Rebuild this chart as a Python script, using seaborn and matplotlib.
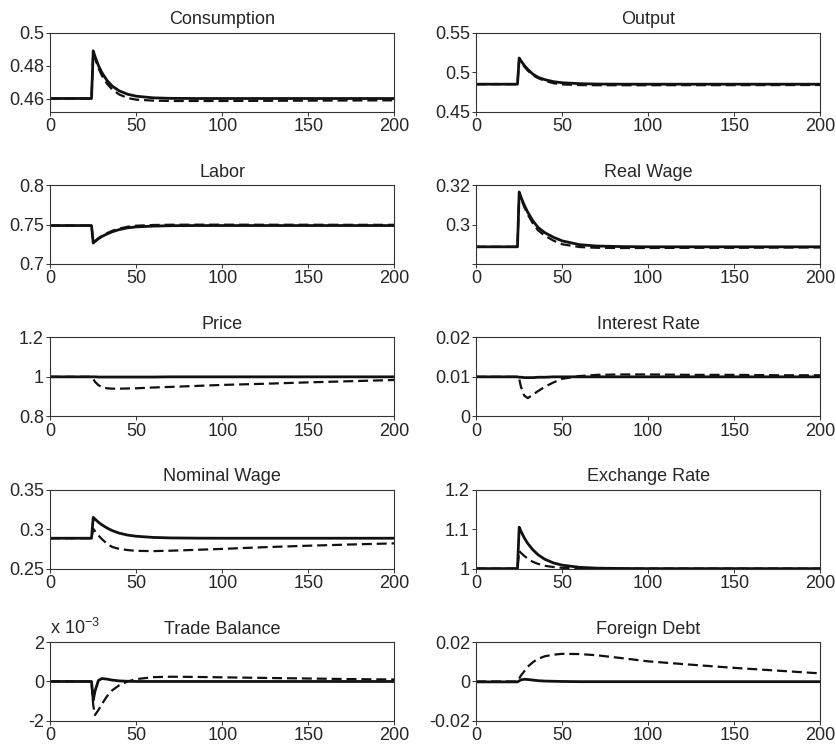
import matplotlib
matplotlib.use("Agg")
import matplotlib.pyplot as plt
import seaborn as sns
import pandas as pd

# Periods at which each impulse response is recorded
periods = [0, 24, 25, 26, 28, 30, 33, 36, 40, 45, 50, 60, 70, 85, 100, 125, 150, 175, 200]

titles = ["Consumption", "Output", "Labor", "Real Wage", "Price",
          "Interest Rate", "Nominal Wage", "Exchange Rate", "Trade Balance", "Foreign Debt"]

# Solid line responses
consumption_solid = [0.460, 0.460, 0.489, 0.4857, 0.4801, 0.4758, 0.4710, 0.4676, 0.4647, 0.4626,
                     0.4614, 0.4604, 0.4601, 0.4600, 0.4600, 0.4600, 0.4600, 0.4600, 0.4600]
output_solid = [0.4848, 0.4848, 0.518, 0.5145, 0.5085, 0.5035, 0.4975, 0.4935, 0.4905, 0.4880,
                0.4866, 0.4855, 0.4850, 0.4848, 0.4848, 0.4848, 0.4848, 0.4848, 0.4848]
labor_solid = [0.7487, 0.7487, 0.7265, 0.7285, 0.7320, 0.7348, 0.7380, 0.7408, 0.7435, 0.7458,
               0.7470, 0.7480, 0.7485, 0.7487, 0.7487, 0.7487, 0.7487, 0.7487, 0.7487]
real_wage_solid = [0.2887, 0.2887, 0.3165, 0.3140, 0.3097, 0.3062, 0.3018, 0.2985, 0.2958, 0.2935,
                   0.2917, 0.2898, 0.2891, 0.2888, 0.2887, 0.2887, 0.2887, 0.2887, 0.2887]
price_solid = [1.0, 1.0, 1.0, 1.0, 0.999, 0.999, 0.999, 0.999, 0.999, 0.999,
               0.999, 0.999, 1.0, 1.0, 1.0, 1.0, 1.0, 1.0, 1.0]
interest_solid = [0.0100, 0.0100, 0.0099, 0.0099, 0.0098, 0.0098, 0.0098, 0.0099, 0.0099, 0.0100,
                  0.0100, 0.0100, 0.0100, 0.0100, 0.0100, 0.0100, 0.0100, 0.0100, 0.0100]
nominal_wage_solid = [0.2885, 0.2885, 0.3150, 0.3128, 0.3088, 0.3055, 0.3015, 0.2982, 0.2950, 0.2925,
                      0.2910, 0.2895, 0.2889, 0.2886, 0.2885, 0.2885, 0.2885, 0.2885, 0.2885]
exchange_solid = [1.0, 1.0, 1.105, 1.095, 1.0775, 1.0635, 1.0475, 1.0350, 1.0235, 1.0143,
                  1.0088, 1.0033, 1.0012, 1.0003, 1.0, 1.0, 1.0, 1.0, 1.0]
trade_solid = [0.0, 0.0, -0.95e-3, -0.50e-3, 0.05e-3, 0.15e-3, 0.12e-3, 0.07e-3, 0.03e-3, 0.01e-3,
               0.0, 0.0, 0.0, 0.0, 0.0, 0.0, 0.0, 0.0, 0.0]
debt_solid = [-0.0002, -0.0002, 0.0003, 0.0008, 0.0011, 0.0010, 0.0007, 0.0004, 0.0002, 0.0001,
              0.0, -0.0001, -0.0001, -0.0001, -0.0001, -0.0001, -0.0001, -0.0001, -0.0001]

# Dashed line responses
consumption_dashed = [0.460, 0.460, 0.488, 0.4845, 0.4785, 0.4740, 0.4690, 0.4655, 0.4625, 0.4603,
                      0.4593, 0.4587, 0.4585, 0.4585, 0.4585, 0.4586, 0.4587, 0.4588, 0.4589]
output_dashed = [0.4848, 0.4848, 0.517, 0.513, 0.507, 0.502, 0.496, 0.4925, 0.489, 0.486,
                 0.4845, 0.4837, 0.4835, 0.4835, 0.4835, 0.4836, 0.4836, 0.4837, 0.4838]
labor_dashed = [0.7487, 0.7487, 0.7270, 0.7290, 0.7325, 0.7355, 0.7390, 0.7420, 0.7448, 0.7472,
                0.7485, 0.7494, 0.7497, 0.7498, 0.7498, 0.7497, 0.7497, 0.7496, 0.7496]
real_wage_dashed = [0.2887, 0.2887, 0.3160, 0.3133, 0.3088, 0.3050, 0.3005, 0.2970, 0.2943, 0.2918,
                    0.2900, 0.2886, 0.2882, 0.2881, 0.2881, 0.2882, 0.2882, 0.2883, 0.2884]
price_dashed = [1.0, 1.0, 0.990, 0.975, 0.958, 0.948, 0.942, 0.940, 0.940, 0.941,
                0.942, 0.946, 0.949, 0.954, 0.959, 0.965, 0.972, 0.978, 0.984]
interest_dashed = [0.0100, 0.0100, 0.0095, 0.0075, 0.0052, 0.0046, 0.0055, 0.0064, 0.0075, 0.0086,
                   0.0095, 0.0102, 0.0105, 0.0106, 0.0106, 0.0105, 0.0105, 0.0104, 0.0104]
nominal_wage_dashed = [0.2885, 0.2885, 0.3005, 0.2975, 0.2920, 0.2875, 0.2815, 0.2775, 0.2750, 0.2735,
                       0.2725, 0.2722, 0.2727, 0.2738, 0.2750, 0.2772, 0.2790, 0.2806, 0.2820]
exchange_dashed = [1.0, 1.0, 1.045, 1.040, 1.032, 1.025, 1.017, 1.012, 1.007, 1.004,
                   1.002, 1.0005, 1.0, 1.0, 1.0, 1.0, 1.0, 1.0, 1.0]
trade_dashed = [0.0, 0.0, -1.2e-3, -1.7e-3, -1.45e-3, -1.15e-3, -0.75e-3, -0.45e-3, -0.2e-3, 0.0,
                0.12e-3, 0.22e-3, 0.24e-3, 0.23e-3, 0.21e-3, 0.18e-3, 0.15e-3, 0.12e-3, 0.10e-3]
debt_dashed = [0.0, 0.0, 0.0015, 0.0030, 0.0052, 0.0075, 0.0098, 0.0115, 0.0128, 0.0136,
               0.0140, 0.0139, 0.0133, 0.0118, 0.0102, 0.0085, 0.0069, 0.0055, 0.0041]

solid_series = [consumption_solid, output_solid, labor_solid, real_wage_solid, price_solid,
                interest_solid, nominal_wage_solid, exchange_solid, trade_solid, debt_solid]
dashed_series = [consumption_dashed, output_dashed, labor_dashed, real_wage_dashed, price_dashed,
                 interest_dashed, nominal_wage_dashed, exchange_dashed, trade_dashed, debt_dashed]

# Axis limits, ticks and tick labels per panel
y_limits = [(0.452, 0.5), (0.45, 0.55), (0.7, 0.8), (0.28, 0.32), (0.8, 1.2),
            (0.0, 0.02), (0.25, 0.35), (1.0, 1.2), (-2e-3, 2e-3), (-0.02, 0.02)]
y_ticks = [[0.46, 0.48, 0.5], [0.45, 0.5, 0.55], [0.7, 0.75, 0.8], [0.28, 0.3, 0.32],
           [0.8, 1.0, 1.2], [0.0, 0.01, 0.02], [0.25, 0.3, 0.35], [1.0, 1.1, 1.2],
           [-2e-3, 0.0, 2e-3], [-0.02, 0.0, 0.02]]
y_tick_labels = [["0.46", "0.48", "0.5"], ["0.45", "0.5", "0.55"], ["0.7", "0.75", "0.8"],
                 ["", "0.3", "0.32"], ["0.8", "1", "1.2"], ["0", "0.01", "0.02"],
                 ["0.25", "0.3", "0.35"], ["1", "1.1", "1.2"], ["-2", "0", "2"],
                 ["-0.02", "0", "0.02"]]
x_ticks = [0, 50, 100, 150, 200]

sns.set_theme(style="ticks")
plt.rcParams["font.family"] = ["Liberation Sans", "DejaVu Sans"]
plt.rcParams["mathtext.fontset"] = "custom"
plt.rcParams["mathtext.rm"] = "Liberation Sans"
plt.rcParams["mathtext.it"] = "Liberation Sans"

fig, axes = plt.subplots(5, 2, figsize=(8.37, 7.44), dpi=100)
fig.subplots_adjust(left=0.060, right=0.980, top=0.956, bottom=0.031,
                    wspace=0.238, hspace=0.93)

for i, ax in enumerate(axes.flat):
    df = pd.DataFrame({"t": periods, "solid": solid_series[i], "dashed": dashed_series[i]})
    sns.lineplot(data=df, x="t", y="dashed", ax=ax, color="#111111", linewidth=1.6,
                 linestyle=(0, (4.5, 2.2)), estimator=None, sort=False,
                 solid_joinstyle="round", dash_joinstyle="round")
    sns.lineplot(data=df, x="t", y="solid", ax=ax, color="#111111", linewidth=2.0,
                 estimator=None, sort=False, solid_joinstyle="round")
    ax.set_xlim(0, 200)
    ax.set_ylim(*y_limits[i])
    ax.set_xticks(x_ticks)
    ax.set_xticklabels([str(v) for v in x_ticks])
    ax.set_yticks(y_ticks[i])
    ax.set_yticklabels(y_tick_labels[i])
    ax.set_xlabel("")
    ax.set_ylabel("")
    ax.set_title(titles[i], fontsize=13, pad=6)
    ax.tick_params(axis="both", labelsize=13, direction="out", length=3, width=0.7,
                   color="#333333", pad=1.5)
    for side in ["top", "right", "bottom", "left"]:
        ax.spines[side].set_visible(True)
        ax.spines[side].set_linewidth(0.8)
        ax.spines[side].set_color("#333333")

# Scale factor for the trade balance axis
axes[4, 0].text(0.0, 1.05, r"x 10$^{-3}$", transform=axes[4, 0].transAxes,
                ha="left", va="bottom", fontsize=13)

fig.savefig("out.png", dpi=100, facecolor="white")
